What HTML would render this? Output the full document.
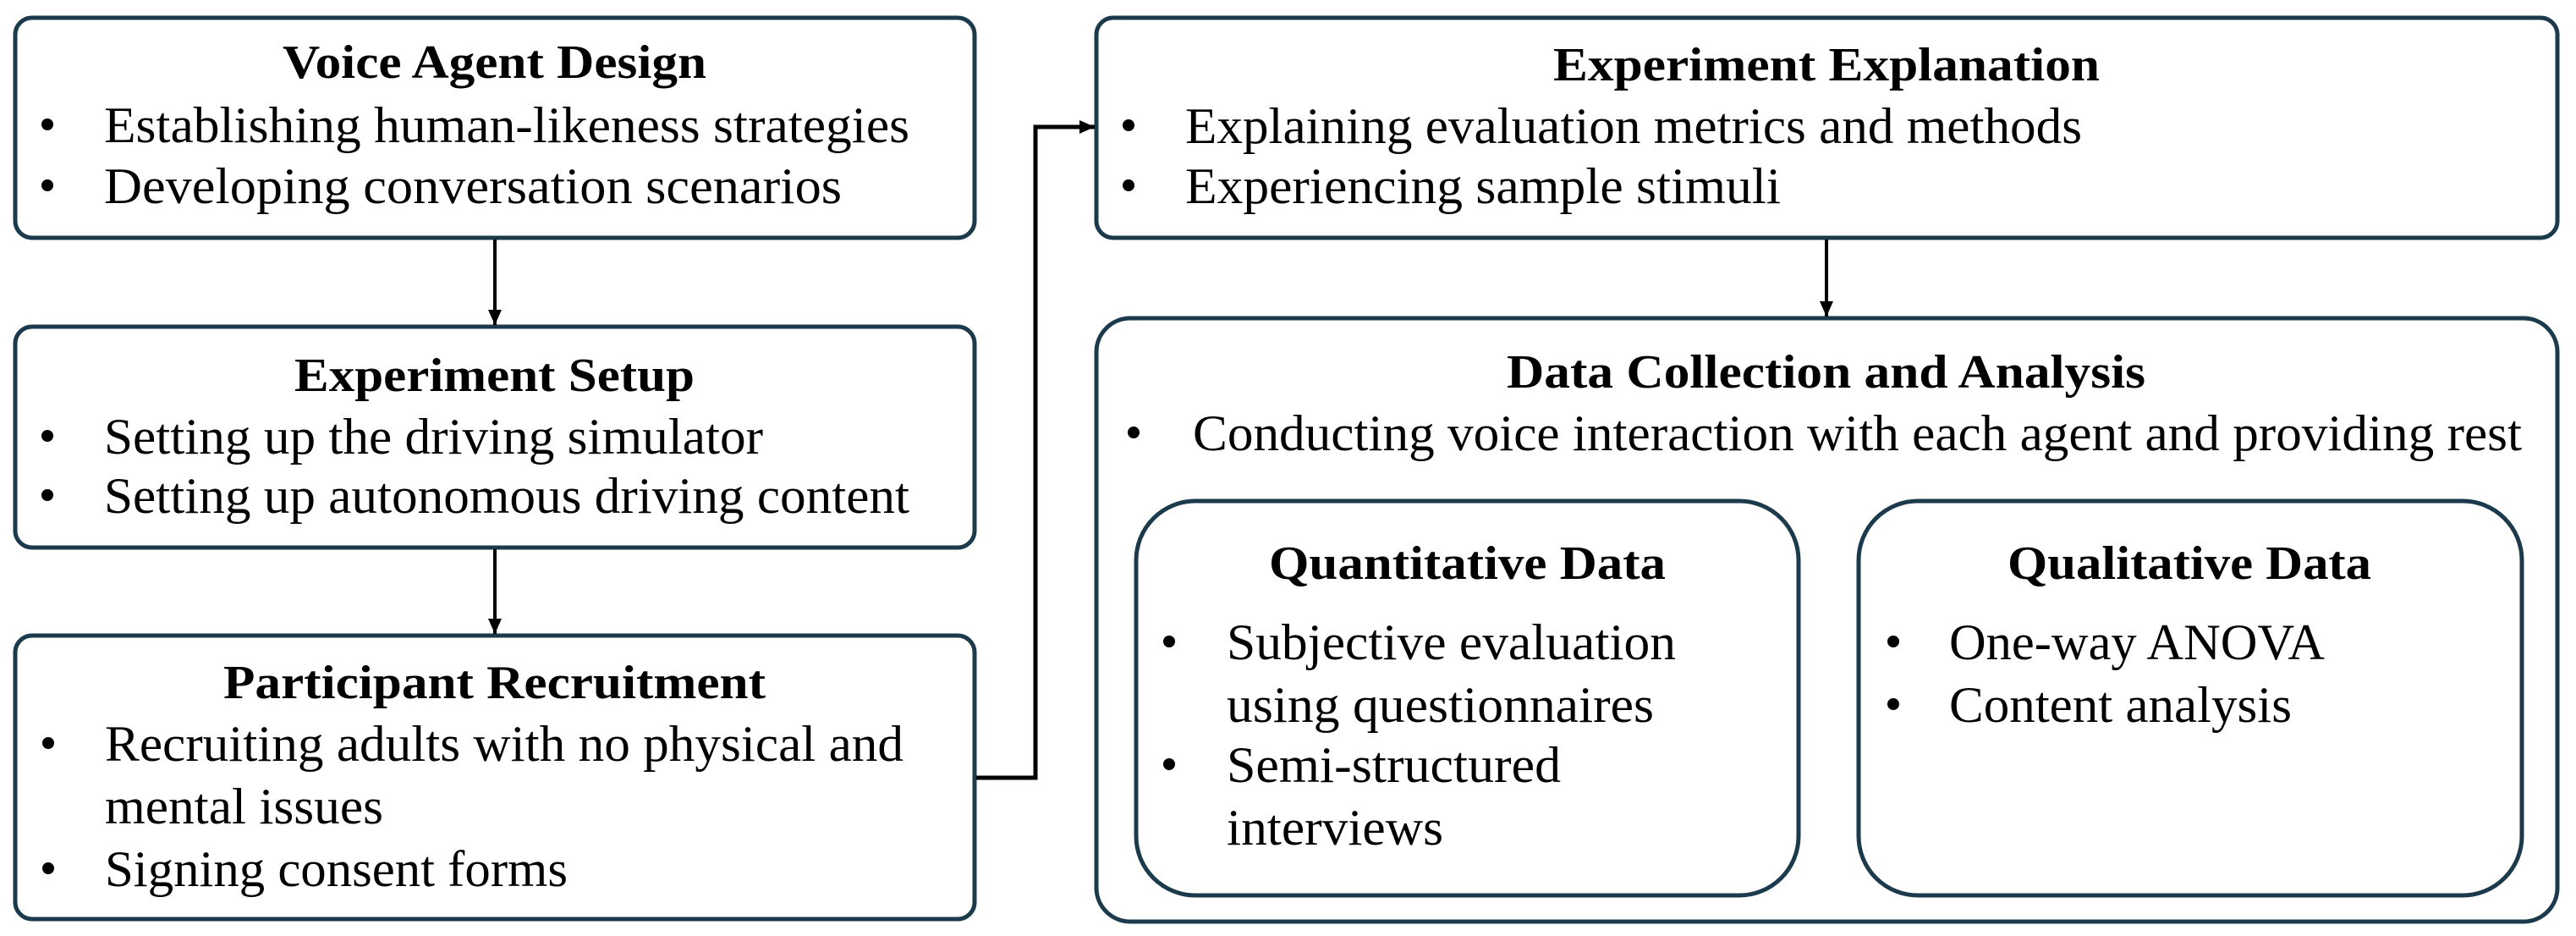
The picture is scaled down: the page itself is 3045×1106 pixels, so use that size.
<!DOCTYPE html>
<html><head><meta charset="utf-8"><style>
html,body{margin:0;padding:0;background:#fff;}
svg{display:block;}
text{font-family:"Liberation Serif",serif;fill:#000;}
.t{font-weight:bold;font-size:56px;}
.b{font-size:60px;}
</style></head><body>
<svg width="3045" height="1106" viewBox="0 0 3045 1106" xmlns="http://www.w3.org/2000/svg">
<defs>
<marker id="ah2" markerWidth="20" markerHeight="20" refX="18" refY="10" orient="auto" markerUnits="userSpaceOnUse"><path d="M0,2 L18,10 L0,18 z" fill="#000"/></marker></defs>
<g fill="none" stroke="#1b3a4b" stroke-width="5">
<rect x="18" y="21" width="1134" height="260" rx="20"/>
<rect x="18" y="386" width="1134" height="261" rx="20"/>
<rect x="18" y="751" width="1134" height="335" rx="20"/>
<rect x="1296" y="21" width="1727" height="260" rx="20"/>
<rect x="1296" y="376" width="1727" height="713" rx="40"/>
<rect x="1343" y="592" width="783" height="466" rx="70"/>
<rect x="2197" y="592" width="784" height="466" rx="70"/>
</g>
<g stroke="#000" stroke-width="4" fill="none">
<line x1="585" y1="283" x2="585" y2="384" marker-end="url(#ah2)"/>
<line x1="585" y1="649" x2="585" y2="749" marker-end="url(#ah2)"/>
<line x1="2159" y1="283" x2="2159" y2="374" marker-end="url(#ah2)"/>
<polyline points="1154,919 1224,919 1224,150 1294,150" stroke-width="5" marker-end="url(#ah2)"/>
</g>
<g fill="#000">
<circle cx="56" cy="147" r="7"/><circle cx="56" cy="219" r="7"/>
<circle cx="56" cy="515" r="7"/><circle cx="56" cy="585" r="7"/>
<circle cx="57" cy="878" r="7"/><circle cx="57" cy="1026" r="7"/>
<circle cx="1334" cy="148" r="7"/><circle cx="1334" cy="219" r="7"/>
<circle cx="1340" cy="511" r="7"/>
<circle cx="1382" cy="758" r="7"/><circle cx="1382" cy="903" r="7"/>
<circle cx="2238" cy="758" r="7"/><circle cx="2238" cy="832" r="7"/>
</g>
<text class="t" x="334" y="92" textLength="501" lengthAdjust="spacingAndGlyphs">Voice Agent Design</text>
<text class="b" x="123" y="168" textLength="952" lengthAdjust="spacingAndGlyphs">Establishing human-likeness strategies</text>
<text class="b" x="123" y="240" textLength="872" lengthAdjust="spacingAndGlyphs">Developing  conversation scenarios</text>
<text class="t" x="348" y="462" textLength="473" lengthAdjust="spacingAndGlyphs">Experiment Setup</text>
<text class="b" x="123" y="536" textLength="779" lengthAdjust="spacingAndGlyphs">Setting up the driving simulator</text>
<text class="b" x="123" y="606" textLength="952" lengthAdjust="spacingAndGlyphs">Setting up autonomous driving content</text>
<text class="t" x="264" y="825" textLength="641" lengthAdjust="spacingAndGlyphs">Participant Recruitment</text>
<text class="b" x="124" y="899" textLength="944" lengthAdjust="spacingAndGlyphs">Recruiting adults with no physical and</text>
<text class="b" x="124" y="973" textLength="329" lengthAdjust="spacingAndGlyphs">mental issues</text>
<text class="b" x="124" y="1047" textLength="547" lengthAdjust="spacingAndGlyphs">Signing consent forms</text>
<text class="t" x="1836" y="95" textLength="646" lengthAdjust="spacingAndGlyphs">Experiment Explanation</text>
<text class="b" x="1401" y="169" textLength="1060" lengthAdjust="spacingAndGlyphs">Explaining evaluation metrics and methods</text>
<text class="b" x="1401" y="240" textLength="704" lengthAdjust="spacingAndGlyphs">Experiencing sample stimuli</text>
<text class="t" x="1781" y="458" textLength="755" lengthAdjust="spacingAndGlyphs">Data Collection and Analysis</text>
<text class="b" x="1410" y="532" textLength="1571" lengthAdjust="spacingAndGlyphs">Conducting voice interaction with each agent and providing rest</text>
<text class="t" x="1500" y="684" textLength="469" lengthAdjust="spacingAndGlyphs">Quantitative Data</text>
<text class="t" x="2373" y="684" textLength="430" lengthAdjust="spacingAndGlyphs">Qualitative Data</text>
<text class="b" x="1450" y="779" textLength="531" lengthAdjust="spacingAndGlyphs">Subjective evaluation</text>
<text class="b" x="1450" y="853" textLength="505" lengthAdjust="spacingAndGlyphs">using questionnaires</text>
<text class="b" x="1450" y="924" textLength="395" lengthAdjust="spacingAndGlyphs">Semi-structured</text>
<text class="b" x="1450" y="998" textLength="256" lengthAdjust="spacingAndGlyphs">interviews</text>
<text class="b" x="2304" y="779" textLength="444" lengthAdjust="spacingAndGlyphs">One-way ANOVA</text>
<text class="b" x="2304" y="853" textLength="405" lengthAdjust="spacingAndGlyphs">Content analysis</text>
</svg>
</body></html>
